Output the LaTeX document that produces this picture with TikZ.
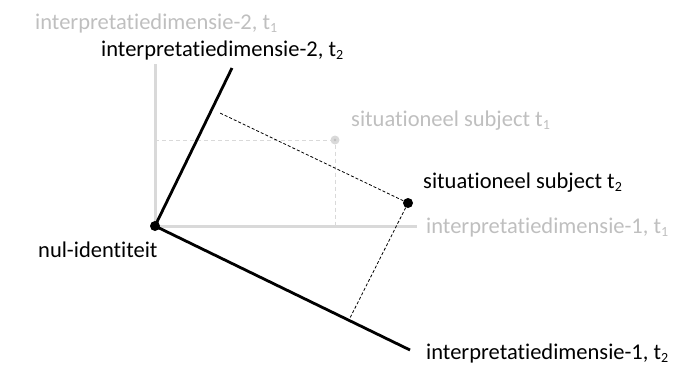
\documentclass[tikz,border=0pt]{standalone}
\usepackage{fontspec}
\setmainfont[RawFeature={-liga}]{Carlito}
\definecolor{axgray}{RGB}{217,217,217}
\definecolor{txgray}{RGB}{191,191,191}
\newcommand{\subidx}[1]{\raisebox{-0.35ex}{\fontsize{14}{14}\selectfont #1}}
\begin{document}
\begin{tikzpicture}[x=1pt,y=-1pt,
  lbl/.style={anchor=base west,inner sep=0pt,font=\fontsize{22.5}{26}\selectfont},
  oldaxis/.style={draw=axgray,line width=3pt},
  newaxis/.style={draw=black,line width=2.8pt},
  olddash/.style={draw=axgray,line width=0.9pt,dash pattern=on 4pt off 3pt},
  newdash/.style={draw=black,line width=0.8pt,dash pattern=on 3pt off 2pt},
  blackdot/.style={circle,fill=black,inner sep=0pt,minimum size=10pt},
  graydot/.style={circle,fill=axgray,inner sep=0pt,minimum size=9pt}]
\useasboundingbox (0,0) rectangle (685,365);
\coordinate (O) at (155,226);
\coordinate (g1end) at (417,226);
\coordinate (g2end) at (155,64);
\coordinate (a1end) at (410,350);
\coordinate (a2end) at (232,68);
\coordinate (gy) at (155,140);
\coordinate (gx) at (335,226);
\coordinate (p2) at (220,113);
\coordinate (p1) at (349,320);
% old axes
\draw[oldaxis] (g2end) -- (O) -- (g1end);
\node[graydot] (s1) at (335,140) {};
\fill[txgray] (s1) circle (1.3pt);
\draw[olddash] (gy) -- (s1);
\draw[olddash] (s1) -- (gx);
% new axes
\draw[newaxis] (a2end) -- (O) -- (a1end);
\node[blackdot] (o) at (O) {};
\node[blackdot] (s2) at (408,203) {};
\draw[newdash] (s2) -- (p2);
\draw[newdash] (s2) -- (p1);
% labels
\node[lbl,text=txgray] (l2old) at (35,29) {interpretatiedimensie-2, t\subidx{1}};
\node[lbl] (l2new) at (101,56) {interpretatiedimensie-2, t\subidx{2}};
\node[lbl,text=txgray] (s1lbl) at (351,126) {situationeel subject t\subidx{1}};
\node[lbl] (s2lbl) at (423,188) {situationeel subject t\subidx{2}};
\node[lbl,text=txgray] (l1old) at (426,233) {interpretatiedimensie-1, t\subidx{1}};
\node[lbl] (nul) at (38,257) {nul-identiteit};
\node[lbl] (l1new) at (426,359) {interpretatiedimensie-1, t\subidx{2}};
\end{tikzpicture}
\end{document}
